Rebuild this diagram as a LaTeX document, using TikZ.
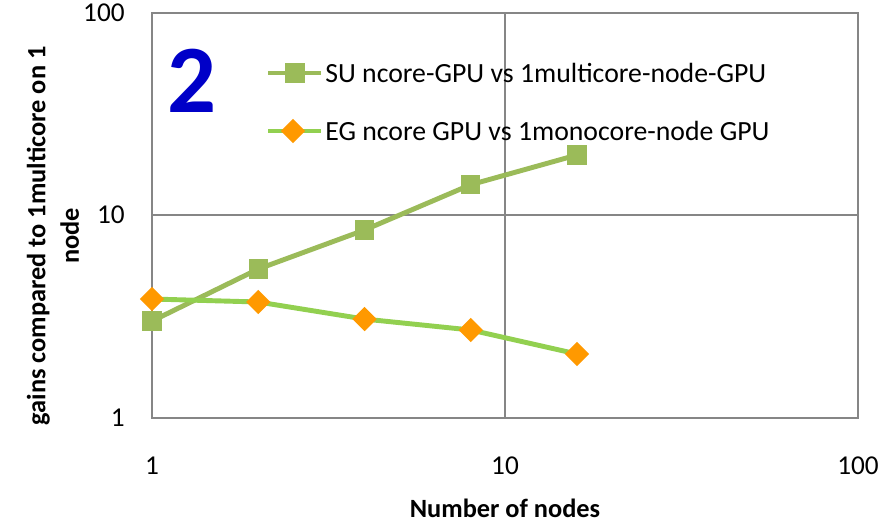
\documentclass[tikz,border=0pt]{standalone}
\usepackage{fontspec}
\setmainfont{Carlito}
\usetikzlibrary{shapes.geometric}
\definecolor{gridgray}{HTML}{868686}
\definecolor{sugreen}{HTML}{9BBB59}
\definecolor{eggreen}{HTML}{92D050}
\definecolor{egorange}{HTML}{FF9900}
\definecolor{bigblue}{HTML}{0000C8}
\tikzset{frame/.style={draw=gridgray,line width=0.9pt},tick/.style={font=\fontsize{15.5}{18}\selectfont,inner sep=0pt},axtitle/.style={font=\fontsize{15}{19}\selectfont\bfseries,align=center,inner sep=0pt},suline/.style={draw=sugreen,line width=2.8pt},egline/.style={draw=eggreen,line width=2.8pt},sumark/.style={rectangle,fill=sugreen,minimum size=11pt,inner sep=0pt},egmark/.style={diamond,fill=egorange,minimum size=14pt,inner sep=0pt},legtext/.style={font=\fontsize{15.8}{18}\selectfont,anchor=west,inner sep=0pt}}

\begin{document}
\begin{tikzpicture}[x=0.02cm,y=-0.02cm]
\useasboundingbox (0,0) rectangle (895,523);
% plot area and grid
\draw[frame] (152,13) rectangle (858,418);
\draw[frame] (505,13) -- (505,418);
\draw[frame] (152,215) -- (858,215);
% tick labels
\node[tick,anchor=east] (y100) at (125,13) {100};
\node[tick,anchor=east] (y10) at (125,215) {10};
\node[tick,anchor=east] (y1) at (125,418) {1};
\node[tick] (x1) at (152,466) {1};
\node[tick] (x10) at (505,466) {10};
\node[tick] (x100) at (858,466) {100};
\node[axtitle] (xtitle) at (505,508) {Number of nodes};
\node[axtitle,rotate=90] (ytitle) at (53,236) {gains compared to 1multicore on 1\\node};
% data
\foreach \n/\v [count=\i] in {1/3.01,2/5.44,4/8.48,8/14.2,16/19.9}
  \coordinate (su\i) at ({152+353*log10(\n)},{418-202.5*log10(\v)});
\foreach \n/\v [count=\i] in {1/3.87,2/3.74,4/3.08,8/2.72,16/2.07}
  \coordinate (eg\i) at ({152+353*log10(\n)},{418-202.5*log10(\v)});
\draw[suline] (su1) -- (su2) -- (su3) -- (su4) -- (su5);
\foreach \i in {1,...,5} \node[sumark] (sum\i) at (su\i) {};
\draw[egline] (eg1) -- (eg2) -- (eg3) -- (eg4) -- (eg5);
\foreach \i in {1,...,5} \node[egmark] (egm\i) at (eg\i) {};
% legend
\coordinate (sua) at (268,73);
\coordinate (sub) at (321,73);
\draw[suline] (sua) -- (sub);
\node[sumark] (sukey) at (295,73) {};
\node[legtext] (sulab) at (325,73) {SU ncore-GPU vs 1multicore-node-GPU};
\coordinate (ega) at (268,131);
\coordinate (egb) at (321,131);
\draw[egline] (ega) -- (egb);
\node[egmark] (egkey) at (293,131) {};
\node[legtext] (eglab) at (325,131) {EG ncore GPU vs 1monocore-node GPU};
% panel number
\node[font=\fontsize{55}{60}\selectfont\bfseries,text=bigblue] (panel) at (192,81) {2};
\end{tikzpicture}
\end{document}
